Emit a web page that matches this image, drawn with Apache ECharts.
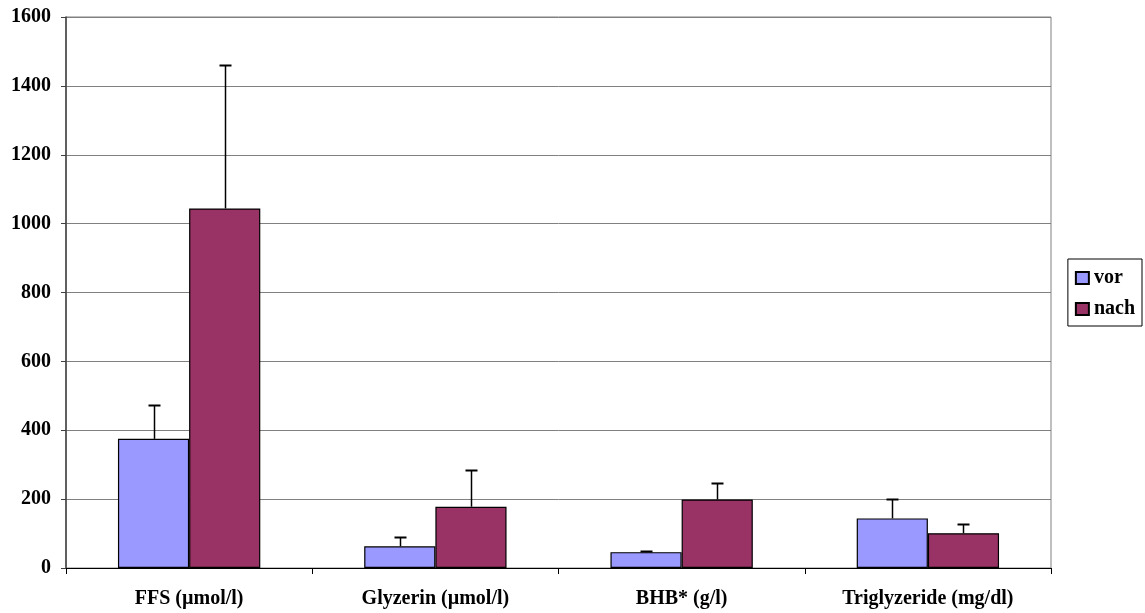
<!DOCTYPE html>
<html><head><meta charset="utf-8">
<script src="https://cdn.jsdelivr.net/npm/echarts@6/dist/echarts.min.js"></script>
<style>html,body{margin:0;padding:0;background:#fff}#c{width:1145px;height:613px}</style>
</head><body><div id="c"></div>
<script>
const categories = ['FFS (µmol/l)', 'Glyzerin (µmol/l)', 'BHB* (g/l)', 'Triglyzeride (mg/dl)'];
const vorValues = [375, 63, 46, 144];
const nachValues = [1044, 178, 199, 101];
const vorErrTop = [473, 89, 48, 200];
const nachErrTop = [1462, 285, 246, 128];
const yTicks = [0, 200, 400, 600, 800, 1000, 1200, 1400, 1600];

const BAR_FRAC = 0.289;
const font = 'Liberation Serif';

function errSeries(name, tops, side) {
  return {
    type: 'custom', name: name + '_err', silent: true, z: 5,
    data: tops.map((t, i) => [i, t, side === 'vor' ? vorValues[i] : nachValues[i]]),
    renderItem: function (params, api) {
      const i = api.value(0);
      const band = api.size([1, 0])[0];
      const off = (side === 'vor' ? -1 : 1) * band * BAR_FRAC / 2;
      const top = api.coord([i, api.value(1)]);
      const base = api.coord([i, api.value(2)]);
      const x = Math.round(top[0] + off) + 0.5;
      const yt = Math.round(top[1]) + 0.5;
      const yb = base[1];
      return {
        type: 'group', children: [
          { type: 'line', shape: { x1: x, y1: yt, x2: x, y2: yb }, style: { stroke: '#000', lineWidth: 1.5 } },
          { type: 'line', shape: { x1: x - 6, y1: yt, x2: x + 6, y2: yt }, style: { stroke: '#000', lineWidth: 2 } }
        ]
      };
    }
  };
}

const chart = echarts.init(document.getElementById('c'));
chart.setOption({
  animation: false,
  grid: { left: 66, right: 94, top: 17, bottom: 45, show: true, borderColor: '#808080', borderWidth: 1, containLabel: false },
  legend: {
    data: ['vor', 'nach'], orient: 'vertical', right: 3, top: 259,
    itemWidth: 13, itemHeight: 12, itemGap: 11,
    padding: [9, 7, 7, 7],
    borderColor: '#000', borderWidth: 1, icon: 'rect',
    textStyle: { fontFamily: font, fontWeight: 'bold', fontSize: 20, lineHeight: 20, color: '#000' }
  },
  xAxis: {
    type: 'category', data: categories,
    axisLine: { lineStyle: { color: '#000', width: 1 } },
    axisTick: { show: true, length: 6, lineStyle: { color: '#000' } },
    axisLabel: { fontFamily: font, fontWeight: 'bold', fontSize: 20, color: '#000', margin: 21 },
    splitLine: { show: false }
  },
  yAxis: {
    type: 'value', min: 0, max: 1600, interval: 200,
    axisLine: { show: true, lineStyle: { color: '#404040', width: 1.5 } },
    axisTick: { show: true, length: 5, lineStyle: { color: '#404040' } },
    axisLabel: { fontFamily: font, fontWeight: 'bold', fontSize: 20, color: '#000', margin: 15,
      formatter: v => yTicks.includes(v) ? String(v) : '' },
    splitLine: { show: true, lineStyle: { color: '#808080', width: 1 } }
  },
  series: [
    { type: 'bar', name: 'vor', data: vorValues, barWidth: (BAR_FRAC * 100) + '%', barGap: '0%',
      itemStyle: { color: '#9999FF', borderColor: '#000', borderWidth: 1.2 } },
    { type: 'bar', name: 'nach', data: nachValues, barWidth: (BAR_FRAC * 100) + '%', barGap: '0%',
      itemStyle: { color: '#993366', borderColor: '#000', borderWidth: 1.2 } },
    errSeries('vor', vorErrTop, 'vor'),
    errSeries('nach', nachErrTop, 'nach')
  ]
});
</script></body></html>
